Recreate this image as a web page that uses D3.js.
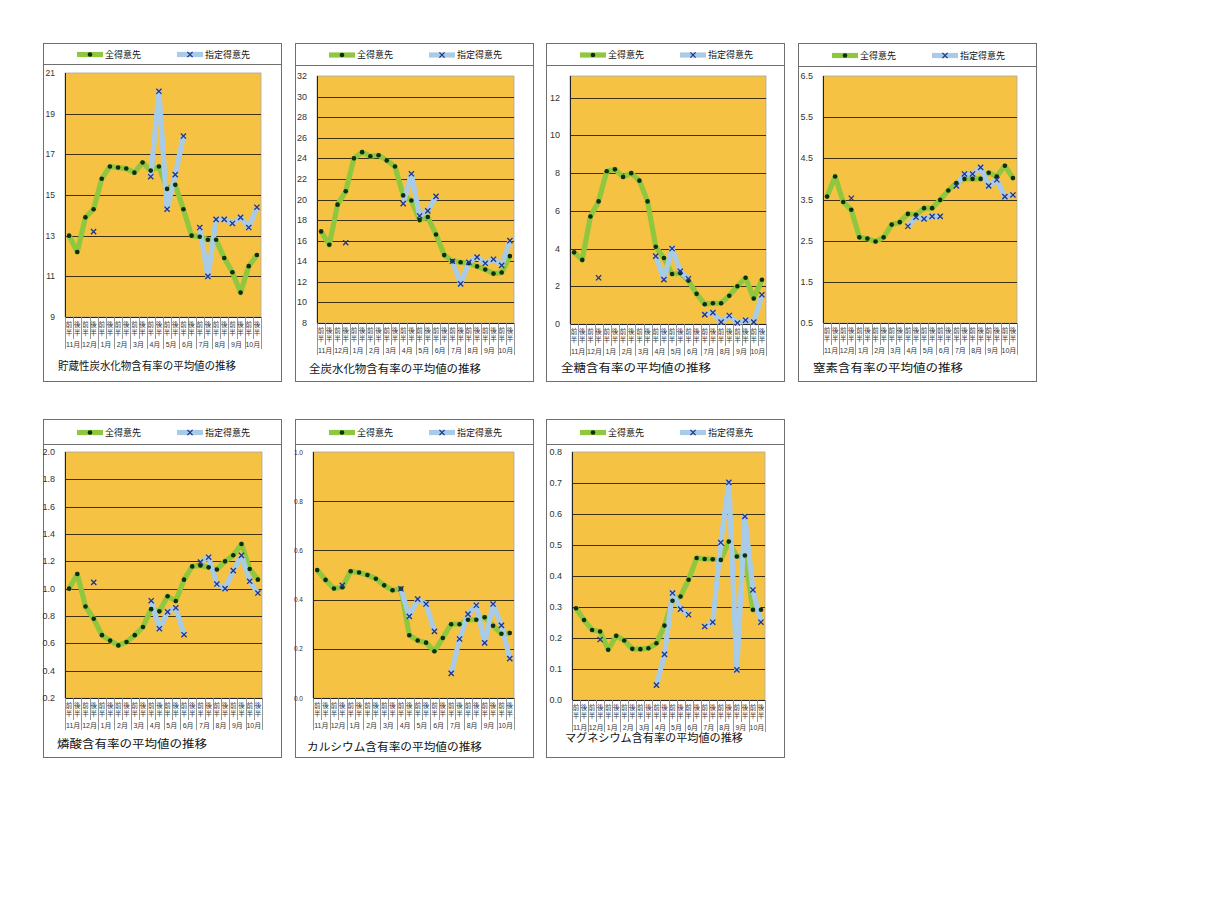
<!DOCTYPE html>
<html><head><meta charset="utf-8">
<script src="https://cdn.jsdelivr.net/npm/d3@7"></script>
<style>
body{margin:0;background:#fff}
svg{display:block}
text{font-family:"Liberation Sans","Noto Sans CJK JP",sans-serif}
</style>
</head><body>
<svg id="c" width="1218" height="903"></svg>
<script>
// ---------- data ----------
const categories = ["11月前半","11月後半","12月前半","12月後半","1月前半","1月後半","2月前半","2月後半",
  "3月前半","3月後半","4月前半","4月後半","5月前半","5月後半","6月前半","6月後半",
  "7月前半","7月後半","8月前半","8月後半","9月前半","9月後半","10月前半","10月後半"];
const monthLabels = ["11月","12月","1月","2月","3月","4月","5月","6月","7月","8月","9月","10月"];
const halfLabels = ["前","後"];
const seriesNames = ["全得意先","指定得意先"];

const storageAll = [13.0,12.2,13.9,14.3,15.8,16.4,16.35,16.3,16.1,16.6,16.2,16.4,15.3,15.5,14.3,13.0,12.95,12.8,12.8,11.9,11.2,10.2,11.5,12.05];
const storageSel = [null,null,null,13.2,null,null,null,null,null,null,15.9,20.1,14.3,16.0,17.9,null,13.4,11.0,13.8,13.8,13.6,13.9,13.4,14.4];
const storageTicks = ["9","11","13","15","17","19","21"];

const totalCarbAll = [16.9,15.6,19.5,20.8,24.0,24.6,24.2,24.3,23.8,23.2,20.4,19.9,18.0,18.3,16.6,14.6,14.0,13.9,13.8,13.5,13.2,12.8,12.9,14.5];
const totalCarbSel = [null,null,null,15.8,null,null,null,null,null,null,19.6,22.5,18.4,18.9,20.3,null,14.0,11.8,13.9,14.4,13.8,14.2,13.6,16.0];
const totalCarbTicks = ["8","10","12","14","16","18","20","22","24","26","28","30","32"];

const sugarAll = [3.8,3.4,5.7,6.5,8.1,8.2,7.8,8.0,7.6,6.5,4.1,3.5,2.65,2.7,2.3,1.6,1.05,1.1,1.1,1.5,2.0,2.45,1.35,2.35];
const sugarSel = [null,null,null,2.45,null,null,null,null,null,null,3.6,2.35,4.0,2.8,2.4,null,0.5,0.6,0.1,0.45,0.05,0.2,0.1,1.55];
const sugarTicks = ["0","2","4","6","8","10","12"];
const sugarMax = 13.15;

const nitrogenAll = [3.57,4.06,3.44,3.25,2.58,2.55,2.48,2.58,2.89,2.95,3.15,3.13,3.29,3.29,3.49,3.72,3.9,4.0,4.0,4.0,4.15,4.06,4.32,4.02];
const nitrogenSel = [null,null,null,3.53,null,null,null,null,null,null,2.85,3.07,3.03,3.09,3.09,null,3.83,4.12,4.12,4.28,3.83,3.98,3.57,3.61];
const nitrogenTicks = ["0.5","1.5","2.5","3.5","4.5","5.5","6.5"];

const phosAll = [1.0,1.107,0.87,0.78,0.66,0.62,0.585,0.61,0.66,0.72,0.85,0.834,0.944,0.91,1.066,1.163,1.17,1.156,1.14,1.2,1.244,1.327,1.144,1.066];
const phosSel = [null,null,null,1.046,null,null,null,null,null,null,0.912,0.707,0.83,0.86,0.663,null,1.195,1.23,1.034,1.0,1.132,1.244,1.054,0.968];
const phosTicks = ["0.2","0.4","0.6","0.8","1.0","1.2","1.4","1.6","1.8","2.0"];

const calciumAll = [0.52,0.48,0.445,0.45,0.515,0.51,0.5,0.485,0.458,0.438,0.444,0.255,0.234,0.225,0.19,0.244,0.3,0.3,0.318,0.318,0.328,0.294,0.261,0.264];
const calciumSel = [null,null,null,0.458,null,null,null,null,null,null,0.444,0.332,0.402,0.382,0.271,null,0.1,0.24,0.341,0.377,0.224,0.382,0.295,0.16];
const calciumTicks = ["0.0","0.2","0.4","0.6","0.8","1.0"];

const magAll = [0.296,0.258,0.226,0.221,0.162,0.207,0.192,0.165,0.164,0.167,0.183,0.24,0.32,0.334,0.388,0.458,0.455,0.454,0.452,0.511,0.463,0.466,0.291,0.291];
const magSel = [null,null,null,0.195,null,null,null,null,null,null,0.048,0.147,0.345,0.293,0.275,null,0.237,0.251,0.508,0.702,0.097,0.592,0.355,0.251];
const magTicks = ["0.0","0.1","0.2","0.3","0.4","0.5","0.6","0.7","0.8"];

const titles = ["貯蔵性炭水化物含有率の平均値の推移","全炭水化物含有率の平均値の推移","全糖含有率の平均値の推移",
  "窒素含有率の平均値の推移","燐酸含有率の平均値の推移","カルシウム含有率の平均値の推移","マグネシウム含有率の平均値の推移"];

const panels = [
  {all:storageAll, sel:storageSel, ticks:storageTicks},
  {all:totalCarbAll, sel:totalCarbSel, ticks:totalCarbTicks},
  {all:sugarAll, sel:sugarSel, ticks:sugarTicks, max:sugarMax},
  {all:nitrogenAll, sel:nitrogenSel, ticks:nitrogenTicks},
  {all:phosAll, sel:phosSel, ticks:phosTicks},
  {all:calciumAll, sel:calciumSel, ticks:calciumTicks},
  {all:magAll, sel:magSel, ticks:magTicks}
];

// ---------- layout ----------
const layout = [
  {x:43, y:43, div:64, l:65, r:261, t:73, b:317, tx:58, ty:366, tw:178, fs:8.5},
  {x:295,y:43, div:65, l:317,r:514, t:76, b:323, tx:309,ty:369, tw:172, fs:9},
  {x:546,y:43, div:65, l:570,r:766, t:76, b:324, tx:561,ty:368, tw:150, fs:9},
  {x:798,y:43, div:66, l:823,r:1017,t:76, b:323, tx:813,ty:368, tw:150, fs:9},
  {x:43, y:419,div:444,l:65, r:262, t:452,b:698, tx:57, ty:744, tw:150, fs:9},
  {x:295,y:419,div:444,l:313,r:514, t:452,b:698, tx:307,ty:747, tw:175, fs:6.5},
  {x:546,y:419,div:444,l:572,r:765, t:452,b:700, tx:565,ty:738, tw:178, fs:9}
];
const PW = 238, PH = 338;
const C = {bg:"#F5C244", grid:"#3f300c", green:"#8FC73E", blue:"#A8CBE7", dot:"#0f2e10", xm:"#22338a", cell:"#8a8a8a"};
const LW = 5.2;
const XM = "M-2.6,-2.6L2.6,2.6M-2.6,2.6L2.6,-2.6";

const svg = d3.select("#c");

panels.forEach((p,k)=>{
  const L = layout[k];
  const g = svg.append("g");
  g.append("rect").attr("x",L.x+0.5).attr("y",L.y+0.5).attr("width",PW).attr("height",PH)
    .attr("fill","#fff").attr("stroke","#6f6f6f").attr("stroke-width",1);
  g.append("line").attr("x1",L.x).attr("x2",L.x+PW+1).attr("y1",L.div+0.5).attr("y2",L.div+0.5)
    .attr("stroke","#6f6f6f");

  // legend
  const ly = (L.y + L.div)/2 + 1;
  g.append("line").attr("x1",L.x+34).attr("x2",L.x+60).attr("y1",ly).attr("y2",ly)
    .attr("stroke",C.green).attr("stroke-width",LW);
  g.append("circle").attr("cx",L.x+47).attr("cy",ly).attr("r",2.3).attr("fill",C.dot);
  g.append("text").attr("x",L.x+62).attr("y",ly).attr("dominant-baseline","central")
    .attr("font-size",9).attr("fill","#111").text(seriesNames[0]);
  g.append("line").attr("x1",L.x+134).attr("x2",L.x+160).attr("y1",ly).attr("y2",ly)
    .attr("stroke",C.blue).attr("stroke-width",LW);
  g.append("path").attr("transform",`translate(${L.x+147},${ly})`)
    .attr("d",XM).attr("stroke",C.xm).attr("stroke-width",1.3).attr("fill","none");
  g.append("text").attr("x",L.x+162).attr("y",ly).attr("dominant-baseline","central")
    .attr("font-size",9).attr("fill","#111").text(seriesNames[1]);

  // scales
  const tickVals = p.ticks.map(Number);
  const ymin = d3.min(tickVals), ymax = p.max !== undefined ? p.max : d3.max(tickVals);
  const x = d3.scaleBand().domain(categories).range([L.l, L.r]).padding(0);
  const y = d3.scaleLinear().domain([ymin, ymax]).range([L.b, L.t]);
  const cx = d => x(d) + x.bandwidth()/2;

  // plot background
  g.append("rect").attr("x",L.l).attr("y",L.t).attr("width",L.r-L.l).attr("height",L.b-L.t)
    .attr("fill",C.bg).attr("stroke","#a7a7a7").attr("stroke-width",0.8);

  // gridlines
  g.selectAll(".grid").data(tickVals.filter(v => v>ymin && v<ymax)).enter().append("line")
    .attr("x1",L.l).attr("x2",L.r).attr("y1",d=>Math.round(y(d))+0.5).attr("y2",d=>Math.round(y(d))+0.5)
    .attr("stroke",C.grid).attr("stroke-width",1);

  // axis lines
  g.append("line").attr("x1",L.l+0.5).attr("x2",L.l+0.5).attr("y1",L.t).attr("y2",L.b)
    .attr("stroke","#222").attr("stroke-width",1);
  g.append("line").attr("x1",L.l).attr("x2",L.r).attr("y1",L.b+0.5).attr("y2",L.b+0.5)
    .attr("stroke","#222").attr("stroke-width",1);

  // y tick labels
  g.selectAll(".yt").data(p.ticks).enter().append("text")
    .attr("x",L.l-10).attr("y",d=>y(+d)).attr("text-anchor","end").attr("dominant-baseline","central")
    .attr("font-size",L.fs).attr("fill","#333").text(d=>d);

  // x category cells
  const bw = x.bandwidth();
  d3.range(categories.length+1).forEach(i=>{
    const xx = Math.round(L.l + i*bw)+0.5;
    g.append("line").attr("x1",xx).attr("x2",xx).attr("y1",L.b)
      .attr("y2", i%2===0 ? L.b+32 : L.b+22)
      .attr("stroke",C.cell).attr("stroke-width",0.9);
  });
  g.selectAll(".h1").data(categories).enter().append("text")
    .attr("x",d=>cx(d)).attr("y",L.b+7).attr("text-anchor","middle").attr("dominant-baseline","central")
    .attr("font-size",6.5).attr("fill","#333").text((d,i)=>halfLabels[i%2]);
  g.selectAll(".h2").data(categories).enter().append("text")
    .attr("x",d=>cx(d)).attr("y",L.b+15.5).attr("text-anchor","middle").attr("dominant-baseline","central")
    .attr("font-size",6.5).attr("fill","#333").text("半");
  g.selectAll(".mo").data(monthLabels).enter().append("text")
    .attr("x",(d,i)=>L.l + (2*i+1)*bw).attr("y",L.b+27).attr("text-anchor","middle").attr("dominant-baseline","central")
    .attr("font-size",7).attr("fill","#333").text(d=>d);

  // lines
  const idx = d3.range(categories.length);
  const line = arr => d3.line().defined(i => arr[i] !== null).x(i => cx(categories[i])).y(i => y(arr[i]))(idx);
  g.append("path").attr("d",line(p.all)).attr("fill","none").attr("stroke",C.green)
    .attr("stroke-width",LW).attr("stroke-linejoin","round");
  g.append("path").attr("d",line(p.sel)).attr("fill","none").attr("stroke",C.blue)
    .attr("stroke-width",LW).attr("stroke-linejoin","round");

  // markers
  g.selectAll(".dot").data(idx.filter(i=>p.all[i]!==null)).enter().append("circle")
    .attr("cx",i=>cx(categories[i])).attr("cy",i=>y(p.all[i])).attr("r",2.3).attr("fill",C.dot);
  g.selectAll(".xm").data(idx.filter(i=>p.sel[i]!==null)).enter().append("path")
    .attr("transform",i=>`translate(${cx(categories[i])},${y(p.sel[i])})`)
    .attr("d",XM).attr("stroke",C.xm).attr("stroke-width",1.3).attr("fill","none");

  // title
  g.append("text").attr("x",L.tx).attr("y",L.ty).attr("dominant-baseline","central")
    .attr("font-size",11).attr("fill","#111")
    .attr("textLength",L.tw).attr("lengthAdjust","spacingAndGlyphs").text(titles[k]);
});
</script>
</body></html>
